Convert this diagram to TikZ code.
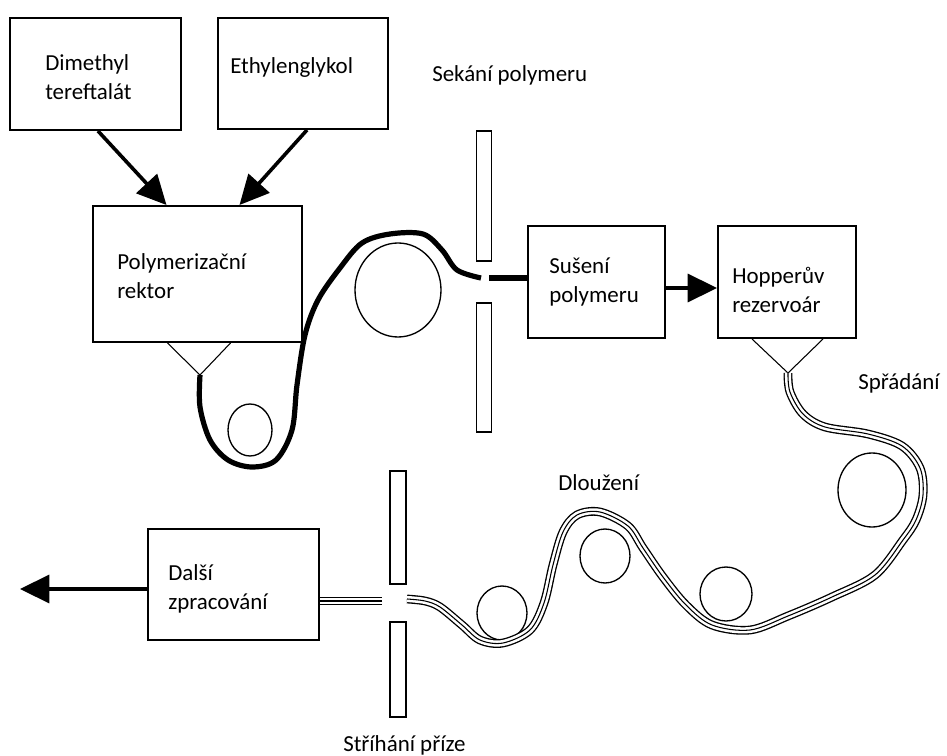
\documentclass[tikz,border=0pt]{standalone}
\usepackage{fontspec}
\setmainfont{Carlito}
\usetikzlibrary{arrows.meta,calc}

\begin{document}
\begin{tikzpicture}[x=0.75pt,y=-0.75pt]
   \useasboundingbox (0,0) rectangle (947,756);
   \tikzstyle{box}=[draw, line width=1.5pt, inner sep=0pt]
   \tikzstyle{cutter}=[draw, line width=1.1pt, inner sep=0pt, minimum width=11pt]
   \tikzstyle{lbl}=[anchor=west, align=left, inner sep=0pt, font=\fontsize{17.2}{21.75}\selectfont]
   \tikzstyle{big}=[-{Triangle[length=22pt,width=21pt]}, line width=2.7pt]
   \tikzstyle{funnel}=[line width=0.8pt]
   \tikzstyle{melt}=[line width=3.9pt]
   \tikzstyle{yarn}=[line width=0.8pt, preaction={draw, line width=1pt, double=white, double distance=4.6pt}]
   \node[box, minimum width=128.25pt, minimum height=84pt] (dmt) at (95.5,74) {};
   \node[box, minimum width=127.5pt, minimum height=83.25pt] (eg) at (303,73.5) {};
   \node[box, minimum width=156.75pt, minimum height=102pt] (reaktor) at (197.5,274) {};
   \node[box, minimum width=102.75pt, minimum height=84pt] (susen) at (596.5,282) {};
   \node[box, minimum width=103.5pt, minimum height=84pt] (hopper) at (787,282) {};
   \node[box, minimum width=128.25pt, minimum height=83.25pt] (dalsi) at (233.5,584.5) {};
   \node[lbl] (dmtText) at (45,77) {Dimethyl\\tereftalát};
   \node[lbl] (egText) at (230,68) {Ethylenglykol};
   \node[lbl] (reaktorText) at (117,276) {Polymerizační\\rektor};
   \node[lbl] (susenText) at (549,282) {Sušení\\polymeru};
   \node[lbl] (hopperText) at (732,290) {Hopperův\\rezervoár};
   \node[lbl] (dalsiText) at (168,589) {Další\\zpracování};
   \node[lbl] (sekani) at (432,75) {Sekání polymeru};
   \node[lbl] (spradani) at (858,383) {Spřádání};
   \node[lbl] (dlouzeni) at (558,483) {Dloužení};
   \node[lbl] (strihani) at (343,745) {Stříhání příze};
   \node[cutter, minimum height=97.5pt] (cutA) at (484,196) {};
   \node[cutter, minimum height=96.75pt] (cutB) at (484,367.5) {};
   \node[cutter, minimum width=12pt, minimum height=84.75pt] (cutC) at (398,527.5) {};
   \node[cutter, minimum width=12pt, minimum height=71.25pt] (cutD) at (398,669.5) {};
   \foreach \cx/\cy/\rx/\ry in {250/430/22/26, 398/290/43/47, 502/613/25/27, 605/556/25/27, 726/594/26/27, 872/490/34/37} {
       \draw[line width=1pt] (\cx,\cy) ellipse [x radius=\rx, y radius=\ry];
   }
   \draw[big] ($(dmt.south)+(2.5,0)$) -- ($(reaktor.north)+(-31,0)$);
   \draw[big] ($(eg.south)+(4,0)$) -- ($(reaktor.north)+(42,0)$);
   \draw[big] ($(susen.east)+(0,6)$) -- ($(hopper.west)+(0,6)$);
   \coordinate (out) at (20,589);
   \draw[big] ($(dalsi.west)+(0,4.5)$) -- (out);
   \coordinate (tipA) at (200,375);
   \coordinate (tipB) at (788,373);
   \draw[funnel] ($(reaktor.south)+(-30,0)$) -- (tipA) -- ($(reaktor.south)+(33,0)$);
   \draw[funnel] ($(hopper.south)+(-35,0)$) -- (tipB) -- ($(hopper.south)+(36,0)$);
   \draw[melt] plot[smooth, tension=0.55] coordinates {(tipA) (200,407) (210,440) (228,460) (252,467) (276,460) (292,430) (297,385) (305,335) (318,300) (340,268) (362,243) (390,234) (423,234) (442,250) (457,270) (481,278)};
   \coordinate (gapR) at (489,278);
   \draw[melt] (gapR) -- (gapR -| susen.west);
   \draw[yarn] plot[smooth, tension=0.55] coordinates {(tipB) (790,392) (803,414) (825,427) (868,434) (902,446) (920,468) (923,495) (916,520) (903,540) (875,575) (832,597) (788,616) (750,630) (712,625) (686,605) (663,577) (643,548) (628,526) (600,512) (577,515) (563,532) (553,565) (544,603) (530,630) (503,643) (480,640) (462,625) (440,607) (425,601) (407,599)};
   \coordinate (gapL) at (382,601);
   \draw[yarn] (gapL) -- (gapL -| dalsi.east);
\end{tikzpicture}
\end{document}
